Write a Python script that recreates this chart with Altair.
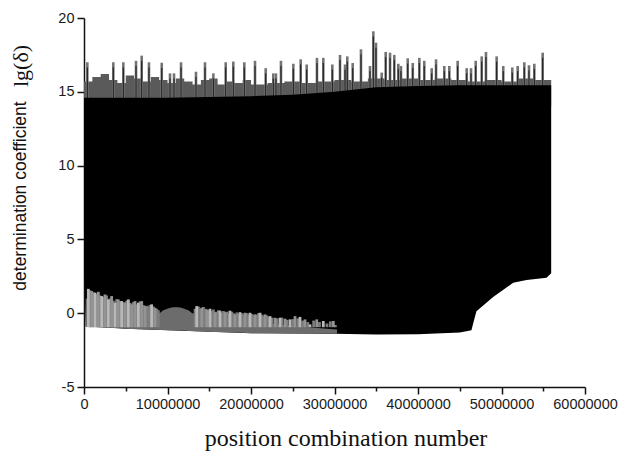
import altair as alt
import pandas as pd

# ---- main black envelope (x in millions) ----
env_x = [0, 0.2, 2, 5, 10, 15, 20, 25, 30, 35, 40, 45, 46.4, 46.7, 47.0, 49, 51.4, 53, 55.4, 55.95]
env_bottom = [3.1, -0.9, -0.95, -1.05, -1.15, -1.25, -1.35, -1.38, -1.4, -1.45, -1.42, -1.3, -1.15, -0.5, 0.14, 1.1, 2.06, 2.25, 2.4, 2.7]
env_top = [14.6, 14.6, 14.6, 14.6, 14.6, 14.65, 14.7, 14.8, 15.0, 15.3, 15.4, 15.45, 15.45, 15.45, 15.45, 15.45, 15.45, 15.45, 15.45, 15.45]

# ---- grey band just above the black block ----
band_x = [0, 1, 2, 3, 4, 5, 6, 7, 8, 9, 10, 11, 12, 13, 14, 15, 16, 17, 18, 19, 20, 22, 24, 26, 28,
          30, 32, 34, 36, 38, 40, 42, 44, 46, 48, 50, 52, 54, 55.95]
band_top = [15.7, 16.0, 16.2, 15.8, 15.6, 16.1, 15.9, 15.7, 16.0, 15.8, 15.6, 15.9, 15.7, 15.5, 15.8,
            15.9, 15.5, 15.7, 15.6, 15.8, 15.5, 15.6, 15.7, 15.6, 15.7, 15.8, 15.7, 15.9, 15.8, 15.9,
            15.8, 15.9, 15.8, 15.7, 15.8, 15.7, 15.9, 15.8, 15.5]

# ---- tall spikes ----
spike_x = [0.40, 3.51, 4.71, 6.23, 6.91, 7.78, 9.31, 10.30, 10.78, 11.62, 13.41, 14.49,
           15.49, 16.97, 17.88, 19.20, 20.48, 21.76, 22.67, 22.99, 23.59, 25.07, 25.95, 26.67,
           27.90, 28.66, 29.74, 30.66, 31.26, 31.53, 32.18, 33.17, 34.25, 34.65, 34.97, 35.65,
           36.13, 36.65, 37.16, 37.64, 37.96, 38.77, 39.37, 40.16, 40.75, 41.64, 42.16, 43.15,
           43.75, 44.75, 45.83, 46.35, 46.91, 47.63, 48.14, 49.42, 50.21, 51.29, 51.94, 52.73,
           53.29, 53.93, 54.93]
spike_y = [17.0, 17.0, 17.0, 17.1, 17.45, 17.0, 16.97, 16.25, 16.25, 17.0, 16.36, 17.0,
           16.25, 17.0, 17.05, 17.0, 17.1, 16.6, 16.25, 16.25, 17.1, 16.9, 17.2, 16.85,
           17.3, 17.3, 16.85, 17.5, 16.85, 17.4, 16.95, 17.88, 16.75, 19.1, 18.33, 16.3,
           17.7, 17.65, 17.5, 16.9, 16.75, 17.27, 16.95, 17.3, 17.1, 16.6, 17.2, 16.75,
           16.75, 17.1, 16.6, 16.6, 17.1, 17.4, 17.7, 17.4, 16.75, 16.65, 16.75, 17.0,
           16.8, 16.9, 17.65]

# ---- grey zone under the black block ----
lowbase_x = [0.2, 1, 2, 3, 4, 5, 6, 7, 8, 9, 9.5, 10, 10.5, 11, 11.5, 12, 12.5, 13, 14, 15, 16,
             18, 20, 22, 24, 26, 28, 30.3]
lowbase_top = [1.0, 0.9, 0.8, 0.6, 0.5, 0.4, 0.3, 0.2, 0.1, 0.0, 0.2, 0.3, 0.38, 0.4, 0.38, 0.3,
               0.2, 0.0, -0.1, -0.2, -0.3, -0.5, -0.6, -0.7, -0.8, -0.9, -1.0, -1.1]
lowbase_bottom = [-0.9, -0.92, -0.95, -0.98, -1.0, -1.05, -1.07, -1.09, -1.11, -1.13, -1.14,
                  -1.15, -1.16, -1.17, -1.18, -1.19, -1.2, -1.21, -1.23, -1.25, -1.27, -1.31,
                  -1.35, -1.36, -1.37, -1.38, -1.38, -1.4]

light_x = [0.52, 1.32, 2.12, 2.91, 3.71, 4.51, 5.31, 6.51, 8.10, 13.5, 15.09, 16.29, 17.48,
           18.68, 19.88, 21.08, 22.28, 23.47, 24.67, 25.87, 27.07, 28.66]
light_top = [1.65, 1.39, 1.16, 0.93, 0.71, 0.82, 0.93, 0.71, 0.6, 0.48, 0.3, 0.17, 0.17,
             0.07, 0.03, 0.03, -0.2, -0.31, -0.42, -0.25, -0.76, -0.53]
mid_x = [0.92, 1.72, 2.51, 3.31, 4.11, 4.91, 5.71, 6.11, 6.91, 7.31, 8.50, 14.1, 14.7, 15.69,
         16.89, 18.08, 19.28, 20.48, 21.68, 22.87, 24.07, 25.27, 26.47, 27.87, 29.86]
mid_top = [1.5, 1.45, 1.27, 1.16, 0.93, 0.71, 0.6, 0.82, 0.82, 0.48, 0.37, 0.37, 0.26, 0.07,
           0.07, -0.08, 0.03, -0.08, -0.08, -0.31, -0.37, -0.2, -0.42, -0.42, -0.53]
pale_x = [0.72, 1.12, 1.52, 1.92, 2.32, 2.71, 3.11, 3.51, 3.91, 4.31, 4.71, 5.11, 5.51, 5.91,
          6.31, 6.71, 7.11, 7.5, 7.7, 7.9, 8.3, 8.7, 8.9, 13.3, 13.7, 13.9, 14.3, 14.5, 14.9,
          15.3, 15.5, 15.9, 16.1, 16.5, 16.7, 17.1, 17.3, 17.7, 17.9, 18.3, 18.5, 18.9, 19.1,
          19.5, 19.7, 20.1, 20.3, 20.7, 20.9, 21.3, 21.5, 21.9, 22.1, 22.5, 23.1, 23.7, 24.3,
          25.0, 25.6, 26.2, 26.8, 27.5, 28.2, 29.1, 29.5, 30.1]
pale_top = [1.55, 1.42, 1.3, 1.2, 1.1, 1.2, 1.0, 0.85, 0.95, 0.8, 0.75, 0.85, 0.7, 0.75,
            0.6, 0.8, 0.55, 0.5, 0.45, 0.55, 0.45, 0.3, 0.2, 0.3, 0.45, 0.3, 0.42, 0.3, 0.2,
            0.15, 0.25, 0.1, 0.2, 0.05, 0.15, 0.1, 0.0, 0.1, 0.0, 0.05, -0.05, 0.0, -0.1,
            0.0, -0.1, -0.05, -0.15, -0.1, 0.0, -0.1, -0.2, -0.15, -0.25, -0.3, -0.35, -0.3, -0.45,
            -0.4, -0.35, -0.5, -0.6, -0.5, -0.6, -0.7, -0.55, -0.8]

SCALE = 1_000_000
def mk(**cols):
    df = pd.DataFrame(cols)
    for c in df.columns:
        if c.startswith("x"):
            df[c] = df[c] * SCALE
    return df

xscale = alt.Scale(domain=[0, 60_000_000], nice=False, zero=False)
yscale = alt.Scale(domain=[-5, 20], nice=False, zero=False)

x_axis = alt.Axis(
    values=list(range(0, 60_000_001, 5_000_000)),
    labelExpr="datum.value % 10000000 === 0 ? toString(datum.value) : ''",
    tickSize={"condition": {"test": "datum.value % 10000000 === 0", "value": 7}, "value": 4},
    grid=False, title=None, domainColor="#111", tickColor="#111", domainWidth=1.5, tickWidth=1.5,
    labelFont="Liberation Sans", labelFontSize=14.5, labelColor="#1a1a1a", labelPadding=3,
    labelOverlap=False, labelFlush=False,
)
y_axis = alt.Axis(
    values=[-5, -2.5, 0, 2.5, 5, 7.5, 10, 12.5, 15, 17.5, 20],
    labelExpr="datum.value % 5 === 0 ? toString(datum.value) : ''",
    tickSize={"condition": {"test": "datum.value % 5 === 0", "value": 7}, "value": 4},
    grid=False, title=None, domainColor="#111", tickColor="#111", domainWidth=1.5, tickWidth=1.5,
    labelFont="Liberation Sans", labelFontSize=14.5, labelColor="#1a1a1a", labelPadding=3,
    labelOverlap=False,
)

band = alt.Chart(mk(x=band_x, top=band_top)).mark_area(
    color="#5a5a5a", interpolate="step-after"
).encode(
    x=alt.X("x:Q", scale=xscale, axis=x_axis),
    y=alt.Y("top:Q", scale=yscale, axis=y_axis),
    y2=alt.datum(14.0),
)

spikes = alt.Chart(mk(x=spike_x, y=spike_y)).mark_rule(color="#747474", strokeWidth=2.6).encode(
    x=alt.X("x:Q", scale=xscale), y=alt.Y("y:Q", scale=yscale), y2=alt.datum(14.0)
)
cores = alt.Chart(mk(x=spike_x, y=spike_y)).transform_calculate(
    yc="datum.y - 0.35"
).mark_rule(color="#111", strokeWidth=0.9).encode(
    x=alt.X("x:Q", scale=xscale), y=alt.Y("yc:Q", scale=yscale), y2=alt.datum(14.0)
)

block = alt.Chart(mk(x=env_x, top=env_top, bottom=env_bottom)).mark_area(
    color="#000000", interpolate="linear"
).encode(
    x=alt.X("x:Q", scale=xscale), y=alt.Y("top:Q", scale=yscale), y2="bottom:Q"
)

lowbase = alt.Chart(mk(x=lowbase_x, top=lowbase_top, bottom=lowbase_bottom)).mark_area(
    color="#6c6c6c", interpolate="monotone"
).encode(
    x=alt.X("x:Q", scale=xscale), y=alt.Y("top:Q", scale=yscale), y2="bottom:Q"
)

def low_rules(xs, tops, colour):
    return alt.Chart(mk(x=xs, top=tops)).mark_rule(color=colour, strokeWidth=2.8).encode(
        x=alt.X("x:Q", scale=xscale), y=alt.Y("top:Q", scale=yscale), y2=alt.datum(-0.95)
    )

pale = low_rules(pale_x, pale_top, "#7d7d7d")
mid = low_rules(mid_x, mid_top, "#939393")
light = low_rules(light_x, light_top, "#b8b8b8")

one = pd.DataFrame({"t": [0]})
ytitle1 = alt.Chart(one).mark_text(
    text="determination coefficient", font="Liberation Sans", fontSize=17.5, angle=270,
    color="#111", align="center", baseline="middle"
).encode(x=alt.value(-63), y=alt.value(178))
ytitle2 = alt.Chart(one).mark_text(
    text="lg(δ)", font="Liberation Serif", fontSize=22, angle=270,
    color="#111", align="center", baseline="middle"
).encode(x=alt.value(-63), y=alt.value(48))
xtitle = alt.Chart(one).mark_text(
    text="position combination number", font="Liberation Serif", fontSize=24,
    color="#111", align="center", baseline="alphabetic"
).encode(x=alt.value(262), y=alt.value(428))

chart = alt.layer(
    band, spikes, cores, block, lowbase, pale, mid, light, ytitle1, ytitle2, xtitle
).properties(
    width=501, height=369,
    autosize=alt.AutoSizeParams(type="none"),
    padding={"left": 84, "top": 18, "right": 35, "bottom": 67},
    background="white",
).configure_view(stroke=None)

chart.save("out.html", embed_options={"renderer": "svg", "actions": False})
